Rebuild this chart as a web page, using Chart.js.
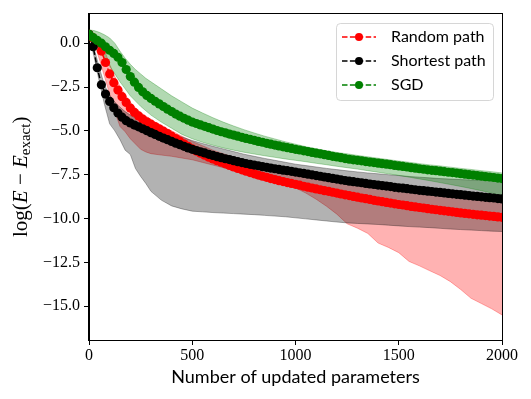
<!DOCTYPE html>
<html>
<head>
<meta charset="utf-8">
<script src="https://cdn.jsdelivr.net/npm/chart.js@4.4.0/dist/chart.umd.min.js"></script>
<style>
html,body{margin:0;padding:0;background:#fff;}
canvas{display:block;}
</style>
</head>
<body>
<canvas id="c" width="531" height="399"></canvas>
<script>
// ---------- data ----------
const seriesNames = ["Random path", "Shortest path", "SGD"];
const xTickValues = [0, 500, 1000, 1500, 2000];
const xTickLabels = ["0", "500", "1000", "1500", "2000"];
const yTickValues = [-15, -12.5, -10, -7.5, -5, -2.5, 0];
const yTickLabels = ["\u221215.0", "\u221212.5", "\u221210.0", "\u22127.5", "\u22125.0", "\u22122.5", "0.0"];

const xMean = [
  0,20,40,60,80,100,120,140,160,180,
  200,220,240,260,280,300,320,340,360,380,
  400,420,440,460,480,500,520,540,560,580,
  600,620,640,660,680,700,720,740,760,780,
  800,820,840,860,880,900,920,940,960,980,
  1000,1020,1040,1060,1080,1100,1120,1140,1160,1180,
  1200,1220,1240,1260,1280,1300,1320,1340,1360,1380,
  1400,1420,1440,1460,1480,1500,1520,1540,1560,1580,
  1600,1620,1640,1660,1680,1700,1720,1740,1760,1780,
  1800,1820,1840,1860,1880,1900,1920,1940,1960,1980,
  2000];

const randomMean = [
  0.5,0.3,0.0,-0.45,-1.1,-1.75,-2.25,-2.67,-3.05,-3.38,
  -3.7,-3.95,-4.15,-4.33,-4.48,-4.62,-4.75,-4.88,-5.02,-5.15,
  -5.3,-5.44,-5.59,-5.74,-5.88,-6.02,-6.15,-6.27,-6.39,-6.5,
  -6.6,-6.7,-6.79,-6.88,-6.97,-7.06,-7.14,-7.22,-7.3,-7.38,
  -7.45,-7.52,-7.59,-7.65,-7.72,-7.78,-7.84,-7.89,-7.95,-8.0,
  -8.05,-8.1,-8.16,-8.21,-8.26,-8.31,-8.36,-8.41,-8.45,-8.5,
  -8.55,-8.6,-8.65,-8.69,-8.74,-8.78,-8.83,-8.87,-8.91,-8.96,
  -9.0,-9.04,-9.08,-9.12,-9.16,-9.2,-9.23,-9.27,-9.31,-9.34,
  -9.37,-9.4,-9.44,-9.47,-9.5,-9.53,-9.56,-9.59,-9.62,-9.65,
  -9.68,-9.71,-9.73,-9.76,-9.79,-9.81,-9.83,-9.86,-9.88,-9.91,
  -9.93];

const shortestMean = [
  0.5,-0.2,-1.4,-2.37,-2.9,-3.32,-3.68,-3.98,-4.22,-4.42,
  -4.55,-4.67,-4.77,-4.88,-4.99,-5.1,-5.2,-5.31,-5.41,-5.5,
  -5.6,-5.7,-5.79,-5.88,-5.97,-6.05,-6.12,-6.19,-6.26,-6.34,
  -6.4,-6.47,-6.53,-6.59,-6.64,-6.7,-6.76,-6.81,-6.86,-6.91,
  -6.95,-6.99,-7.04,-7.08,-7.12,-7.16,-7.2,-7.24,-7.27,-7.31,
  -7.35,-7.39,-7.43,-7.47,-7.51,-7.55,-7.59,-7.63,-7.67,-7.71,
  -7.75,-7.79,-7.83,-7.87,-7.9,-7.93,-7.96,-8.0,-8.03,-8.06,
  -8.09,-8.12,-8.15,-8.18,-8.22,-8.25,-8.27,-8.3,-8.33,-8.36,
  -8.39,-8.41,-8.44,-8.46,-8.49,-8.51,-8.54,-8.57,-8.59,-8.62,
  -8.64,-8.67,-8.69,-8.72,-8.74,-8.76,-8.79,-8.81,-8.83,-8.86,
  -8.88];

const sgdMean = [
  0.5,0.32,0.16,0.0,-0.2,-0.4,-0.58,-0.8,-1.1,-1.5,
  -1.9,-2.22,-2.52,-2.77,-2.98,-3.15,-3.31,-3.46,-3.61,-3.76,
  -3.9,-4.04,-4.16,-4.28,-4.39,-4.5,-4.58,-4.66,-4.74,-4.82,
  -4.9,-4.98,-5.05,-5.11,-5.18,-5.24,-5.3,-5.37,-5.43,-5.48,
  -5.54,-5.6,-5.65,-5.71,-5.76,-5.81,-5.86,-5.91,-5.96,-6.0,
  -6.05,-6.09,-6.14,-6.18,-6.23,-6.27,-6.31,-6.36,-6.4,-6.45,
  -6.49,-6.53,-6.58,-6.62,-6.65,-6.68,-6.71,-6.75,-6.78,-6.81,
  -6.84,-6.87,-6.9,-6.93,-6.97,-7.0,-7.03,-7.06,-7.1,-7.13,
  -7.16,-7.19,-7.22,-7.25,-7.27,-7.3,-7.33,-7.36,-7.38,-7.41,
  -7.44,-7.47,-7.5,-7.52,-7.55,-7.58,-7.61,-7.63,-7.66,-7.69,
  -7.72];

const xBand = [0,25,50,75,100,125,150,175,200,225,250,275,300,350,400,450,500,550,600,650,700,750,800,850,900,950,
  1000,1050,1100,1150,1200,1250,1300,1350,1400,1450,1500,1550,1600,1650,1700,1750,1800,1850,1900,1950,2000];

const randomUpper = [0.5,0.4,0.15,-0.4,-1.2,-1.9,-2.45,-2.95,-3.35,-3.7,-3.95,-4.15,-4.35,-4.7,-5.0,-5.3,-5.6,-5.85,-6.1,-6.3,
  -6.5,-6.7,-6.85,-7.0,-7.15,-7.28,-7.4,-7.52,-7.64,-7.75,-7.86,-7.96,-8.05,-8.14,-8.23,-8.32,-8.4,-8.48,-8.56,-8.63,
  -8.7,-8.77,-8.84,-8.9,-8.96,-9.02,-9.08];
const randomLower = [0.5,0.0,-0.9,-1.9,-2.9,-3.9,-4.75,-5.05,-5.45,-5.75,-6.05,-6.2,-6.3,-6.38,-6.45,-6.55,-6.65,-6.8,-6.95,-7.1,
  -7.2,-7.3,-7.42,-7.5,-7.65,-7.9,-8.25,-8.55,-8.9,-9.3,-9.75,-10.3,-10.55,-10.85,-11.4,-11.65,-11.95,-12.45,-12.7,-12.98,
  -13.25,-13.6,-14.05,-14.55,-14.85,-15.15,-15.5];

const shortestUpper = [0.5,-0.3,-1.4,-2.4,-2.95,-3.35,-3.65,-3.9,-4.1,-4.27,-4.42,-4.56,-4.7,-4.95,-5.15,-5.35,-5.55,-5.72,-5.88,-6.03,
  -6.18,-6.33,-6.45,-6.57,-6.68,-6.79,-6.9,-6.98,-7.06,-7.14,-7.21,-7.28,-7.34,-7.4,-7.45,-7.5,-7.55,-7.6,-7.64,-7.68,
  -7.72,-7.75,-7.78,-7.8,-7.82,-7.84,-7.86];
const shortestLower = [0.5,-0.8,-2.2,-3.5,-4.6,-5.0,-5.5,-6.1,-6.35,-7.15,-7.6,-8.0,-8.45,-8.95,-9.28,-9.45,-9.58,-9.62,-9.66,-9.69,
  -9.72,-9.75,-9.78,-9.82,-9.86,-9.9,-9.96,-10.02,-10.08,-10.14,-10.2,-10.25,-10.28,-10.31,-10.34,-10.38,-10.42,-10.46,-10.49,-10.52,
  -10.56,-10.6,-10.63,-10.66,-10.69,-10.72,-10.74];

const sgdUpper = [0.76,0.72,0.62,0.48,0.3,0.0,-0.45,-0.85,-1.2,-1.5,-1.75,-2.0,-2.2,-2.6,-3.0,-3.35,-3.7,-3.98,-4.25,-4.5,
  -4.72,-4.93,-5.12,-5.3,-5.46,-5.62,-5.76,-5.9,-6.02,-6.13,-6.23,-6.31,-6.4,-6.48,-6.56,-6.64,-6.72,-6.79,-6.87,-6.94,
  -7.0,-7.07,-7.14,-7.2,-7.27,-7.33,-7.4];
const sgdLower = [0.2,-0.05,-0.4,-0.85,-1.3,-1.75,-2.2,-2.6,-3.0,-3.3,-3.6,-3.85,-4.1,-4.5,-4.85,-5.2,-5.45,-5.65,-5.82,-5.97,
  -6.1,-6.22,-6.32,-6.42,-6.51,-6.6,-6.68,-6.76,-6.85,-6.93,-7.02,-7.1,-7.18,-7.27,-7.36,-7.45,-7.54,-7.64,-7.74,-7.84,
  -7.95,-8.06,-8.17,-8.29,-8.41,-8.55,-8.7];

// ---------- styles ----------
const lineColors = ["#ff0000", "#000000", "#008000"];
const bandColors = ["rgba(255,0,0,0.3)", "rgba(0,0,0,0.3)", "rgba(0,128,0,0.3)"];
const SERIF = '"Liberation Serif", "DejaVu Serif", serif';
const SANS = 'Lato, "Open Sans", sans-serif';

function pts(xs, ys) { return xs.map((x, i) => ({ x: x, y: ys[i] })); }

const means = [randomMean, shortestMean, sgdMean];
const uppers = [randomUpper, shortestUpper, sgdUpper];
const lowers = [randomLower, shortestLower, sgdLower];

const datasets = [];
for (let k = 0; k < 3; k++) {
  const upIdx = datasets.length;
  datasets.push({
    label: seriesNames[k] + " upper",
    data: pts(xBand, uppers[k]),
    borderColor: bandColors[k], borderWidth: 1, pointRadius: 0, fill: false,
    order: 10 - 2 * k
  });
  datasets.push({
    label: seriesNames[k] + " lower",
    data: pts(xBand, lowers[k]),
    borderColor: bandColors[k], borderWidth: 1, pointRadius: 0,
    backgroundColor: bandColors[k],
    fill: { target: upIdx, above: bandColors[k], below: bandColors[k] },
    order: 9 - 2 * k
  });
}
for (let k = 0; k < 3; k++) {
  datasets.push({
    label: seriesNames[k],
    data: pts(xMean, means[k]),
    borderColor: lineColors[k], backgroundColor: lineColors[k],
    borderWidth: 1.5, borderDash: [5.5, 2.4],
    pointRadius: 4.6, pointBorderWidth: 0, pointBackgroundColor: lineColors[k],
    fill: false, order: 2 - k
  });
}

const framePlugin = {
  id: 'frame',
  afterDraw(chart) {
    const ctx = chart.ctx, a = chart.chartArea;
    ctx.save();
    ctx.strokeStyle = '#000';
    ctx.lineWidth = 1;
    ctx.strokeRect(Math.round(a.left) - 0.5, Math.round(a.top) - 0.5, Math.round(a.right - a.left) + 1, Math.round(a.bottom - a.top) + 1);
    ctx.restore();
  }
};

const yTitlePlugin = {
  id: 'yTitle',
  afterDraw(chart) {
    const ctx = chart.ctx, a = chart.chartArea;
    const cy = (a.top + a.bottom) / 2, cx = 21;
    const big = 21, small = 15;
    const parts = [
      { t: 'log(', f: big + 'px ' + SERIF, dy: 0 },
      { t: 'E', f: 'italic ' + big + 'px ' + SERIF, dy: 0 },
      { t: ' \u2212 ', f: big + 'px ' + SERIF, dy: 0 },
      { t: 'E', f: 'italic ' + big + 'px ' + SERIF, dy: 0 },
      { t: 'exact', f: small + 'px ' + SERIF, dy: 5 },
      { t: ')', f: big + 'px ' + SERIF, dy: 0 }
    ];
    ctx.save();
    ctx.fillStyle = '#000';
    ctx.textBaseline = 'middle';
    ctx.textAlign = 'left';
    let total = 0;
    parts.forEach(p => { ctx.font = p.f; p.w = ctx.measureText(p.t).width; total += p.w; });
    ctx.translate(cx, cy);
    ctx.rotate(-Math.PI / 2);
    let x = -total / 2;
    parts.forEach(p => { ctx.font = p.f; ctx.fillText(p.t, x, p.dy); x += p.w; });
    ctx.restore();
  }
};

const legendPlugin = {
  id: 'boxLegend',
  afterDraw(chart) {
    const ctx = chart.ctx, a = chart.chartArea;
    const w = 157, h = 77;
    const bx = Math.round(a.right - 9 - w), by = Math.round(a.top + 9);
    ctx.save();
    ctx.beginPath();
    if (ctx.roundRect) ctx.roundRect(bx + 0.5, by + 0.5, w, h, 4); else ctx.rect(bx + 0.5, by + 0.5, w, h);
    ctx.fillStyle = 'rgba(255,255,255,0.8)';
    ctx.fill();
    ctx.strokeStyle = 'rgba(204,204,204,0.8)';
    ctx.lineWidth = 1;
    ctx.stroke();
    seriesNames.forEach((name, i) => {
      const y = by + 14 + i * 24;
      ctx.strokeStyle = lineColors[i];
      ctx.lineWidth = 1.5;
      ctx.setLineDash([5.5, 2.4]);
      ctx.beginPath(); ctx.moveTo(bx + 6, y); ctx.lineTo(bx + 40, y); ctx.stroke();
      ctx.setLineDash([]);
      ctx.fillStyle = lineColors[i];
      ctx.beginPath(); ctx.arc(bx + 23, y, 4, 0, Math.PI * 2); ctx.fill();
      ctx.fillStyle = '#000';
      ctx.font = '16px ' + SANS;
      ctx.textBaseline = 'middle';
      ctx.textAlign = 'left';
      ctx.fillText(name, bx + 55, y);
    });
    ctx.restore();
  }
};

new Chart(document.getElementById('c'), {
  type: 'line',
  data: { datasets: datasets },
  options: {
    responsive: false,
    animation: false,
    devicePixelRatio: 1,
    layout: { padding: { left: 0, right: 29, top: 12, bottom: 0 } },
    plugins: {
      legend: { display: false },
      tooltip: { enabled: false },
      filler: { propagate: false }
    },
    elements: { line: { tension: 0 } },
    scales: {
      x: {
        type: 'linear', min: 0, max: 2000,
        afterFit: s => { s.height = 59; },
        afterBuildTicks: s => { s.ticks = xTickValues.map(v => ({ value: v })); },
        ticks: {
          autoSkip: false, maxRotation: 0, padding: 1, color: '#000',
          font: { family: SERIF, size: 16 },
          callback: (v, i) => xTickLabels[i]
        },
        grid: { drawOnChartArea: false, drawTicks: true, tickLength: 5, color: '#000', tickWidth: 1 },
        border: { display: true, color: '#000', width: 1 },
        title: {
          display: true, text: 'Number of updated parameters', color: '#000',
          font: { family: SANS, size: 18 }, padding: { top: 0, bottom: 11 }
        }
      },
      y: {
        type: 'linear', min: -16.93, max: 1.69,
        afterFit: s => { s.width = 89; },
        afterBuildTicks: s => { s.ticks = yTickValues.map(v => ({ value: v })); },
        ticks: {
          autoSkip: false, padding: 4, color: '#000',
          font: { family: SERIF, size: 16 },
          callback: (v, i) => yTickLabels[i]
        },
        grid: { drawOnChartArea: false, drawTicks: true, tickLength: 5, color: '#000', tickWidth: 1 },
        border: { display: true, color: '#000', width: 1 }
      }
    }
  },
  plugins: [framePlugin, yTitlePlugin, legendPlugin]
});
</script>
</body>
</html>
